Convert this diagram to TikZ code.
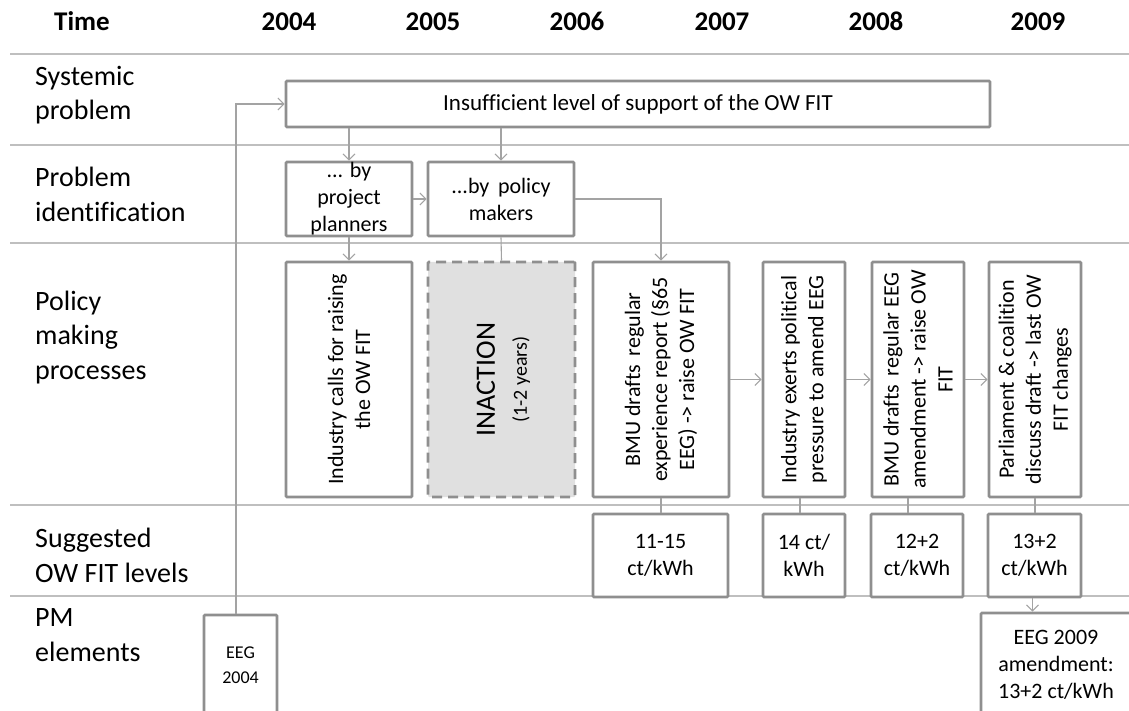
\documentclass[tikz,border=0pt]{standalone}
\usepackage{fontspec}
\setmainfont{Carlito}[Ligatures=NoCommon]
\usetikzlibrary{arrows.meta}
\definecolor{boxgray}{HTML}{8F8F8F}
\definecolor{conngray}{HTML}{A3A3A3}
\definecolor{sepgray}{HTML}{BFBFBF}
\definecolor{inactfill}{HTML}{E0E0E0}
\begin{document}
\begin{tikzpicture}[x=1pt,y=-1pt,
  box/.style={draw=boxgray, line width=2.6pt, rounded corners=1pt, inner sep=0pt, fill=white},
  inactbox/.style={draw=boxgray, line width=2.6pt, dash pattern=on 10pt off 6pt, rounded corners=1pt, inner sep=0pt, fill=inactfill},
  txt/.style={align=center, inner sep=0pt, font=\fontsize{22}{27}\selectfont},
  vtext/.style={rotate=90, align=center, inner sep=0pt, font=\fontsize{22}{27}\selectfont},
  conn/.style={draw=conngray, line width=1.1pt, -{Straight Barb[length=6pt,width=12pt]}},
  plainline/.style={draw=conngray, line width=1.1pt},
  sepline/.style={draw=sepgray, line width=1.6pt},
  hdr/.style={anchor=base, inner sep=0pt, font=\fontsize{27}{30}\selectfont\bfseries},
  lbl/.style={anchor=west, align=left, inner sep=0pt, font=\fontsize{28}{34.5}\selectfont}]
\useasboundingbox (0,0) rectangle (1129,711);
\clip (0,0) rectangle (1129,711);
\fill[white] (0,0) rectangle (1129,711);

% separators
\foreach \yy in {54,145,243,505,596} \draw[sepline] (10,\yy) -- (1129,\yy);

% header
\node[hdr] (hTime) at (82,31) {Time};
\node[hdr] (h2004) at (289,31) {2004};
\node[hdr] (h2005) at (433,31) {2005};
\node[hdr] (h2006) at (577,31) {2006};
\node[hdr] (h2007) at (722,31) {2007};
\node[hdr] (h2008) at (876,31) {2008};
\node[hdr] (h2009) at (1038,31) {2009};

% row labels
\node[lbl] (lSys) at (35,95) {Systemic\\problem};
\node[lbl] (lProb) at (35,194.5) {Problem\\identification};
\node[lbl] (lPol) at (35,337.5) {Policy\\making\\processes};
\node[lbl] (lSug) at (35,555.5) {Suggested\\OW FIT levels};
\node[lbl] (lPM) at (35,635) {PM\\elements};

% systemic problem
\node[box, minimum width=704, minimum height=46] (sys) at (638,104) {};
\node[txt, font=\fontsize{23}{27}\selectfont] (sysT) at (sys) {Insufficient level of support of the OW FIT};

% problem identification
\node[box, minimum width=126, minimum height=74] (pb1) at (349,199) {};
\node[txt] (pb1T) at (pb1) {... by\\project\\planners};
\node[box, minimum width=146, minimum height=74] (pb2) at (501,199) {};
\node[txt] (pb2T) at (pb2) {...by\ \,policy\\makers};

% policy making processes
\node[box, minimum width=126, minimum height=235] (pol1) at (349,379.5) {};
\node[vtext] (pol1T) at (pol1) {Industry calls for raising\\the OW FIT};
\node[inactbox, minimum width=147, minimum height=235] (inact) at (501.5,379.5) {};
\node[rotate=90, align=center, inner sep=0pt, font=\fontsize{20}{32}\selectfont] (inactT) at ([xshift=2]inact.center) {{\fontsize{28}{32}\selectfont INACTION}\\(1-2 years)};
\node[box, minimum width=136, minimum height=235] (pol3) at (661,379.5) {};
\node[vtext] (pol3T) at (pol3) {BMU drafts\ \,regular\\experience report (§65\\EEG) -> raise OW FIT};
\node[box, minimum width=82, minimum height=235] (pol4) at (804,379.5) {};
\node[vtext] (pol4T) at (pol4) {Industry exerts political\\pressure to amend EEG};
\node[box, minimum width=92, minimum height=235] (pol5) at (918,379.5) {};
\node[vtext] (pol5T) at (pol5) {BMU drafts\ \,regular EEG\\amendment -> raise OW\\FIT};
\node[box, minimum width=92, minimum height=235] (pol6) at (1035,379.5) {};
\node[vtext] (pol6T) at (pol6) {Parliament \& coalition\\discuss draft -> last OW\\FIT changes};

% suggested levels
\node[box, minimum width=135, minimum height=83] (s1) at (660.5,555.5) {};
\node[txt] (s1T) at (s1) {11-15\\ct/kWh};
\node[box, minimum width=82, minimum height=83] (s2) at (804,555.5) {};
\node[txt] (s2T) at (s2) {14 ct/\\kWh};
\node[box, minimum width=92, minimum height=83] (s3) at (917,555.5) {};
\node[txt] (s3T) at (s3) {12+2\\ct/kWh};
\node[box, minimum width=93, minimum height=83] (s4) at (1034.5,555.5) {};
\node[txt] (s4T) at (s4) {13+2\\ct/kWh};

% PM elements
\node[box, minimum width=73, minimum height=100] (e04) at (240.5,665) {};
\node[txt, font=\fontsize{18}{25}\selectfont] (e04T) at (e04) {EEG\\2004};
\node[box, minimum width=150, minimum height=104] (e09) at (1056,665) {};
\node[txt] (e09T) at (e09) {EEG 2009\\amendment:\\13+2 ct/kWh};

% connectors
\draw[conn] ([xshift=-4.5]e04.north) |- (sys.west);
\draw[conn] (sys.south -| pb1.north) -- (pb1.north);
\draw[conn] (sys.south -| pb2.north) -- (pb2.north);
\draw[conn] (pb1.east) -- (pb2.west);
\draw[conn] (pb1.south) -- (pol1.north);
\draw[plainline] (pb2.south) -- (inact.north);
\draw[conn] (pb2.east) -| (pol3.north);
\draw[conn] (pol3.east) -- (pol4.west);
\draw[conn] (pol4.east) -- (pol5.west);
\draw[conn] (pol5.east) -- (pol6.west);
\draw[plainline] (pol3.south) -- (s1.north -| pol3.south);
\draw[plainline] ([xshift=-4]pol4.south) -- ([xshift=-4]s2.north);
\draw[plainline] ([xshift=-10]pol5.south) -- ([xshift=-9]s3.north);
\draw[plainline] (pol6.south) -- (s4.north -| pol6.south);
\draw[conn] ([xshift=-2]s4.south) -- ([xshift=-2]s4.south |- e09.north);
\end{tikzpicture}
\end{document}
